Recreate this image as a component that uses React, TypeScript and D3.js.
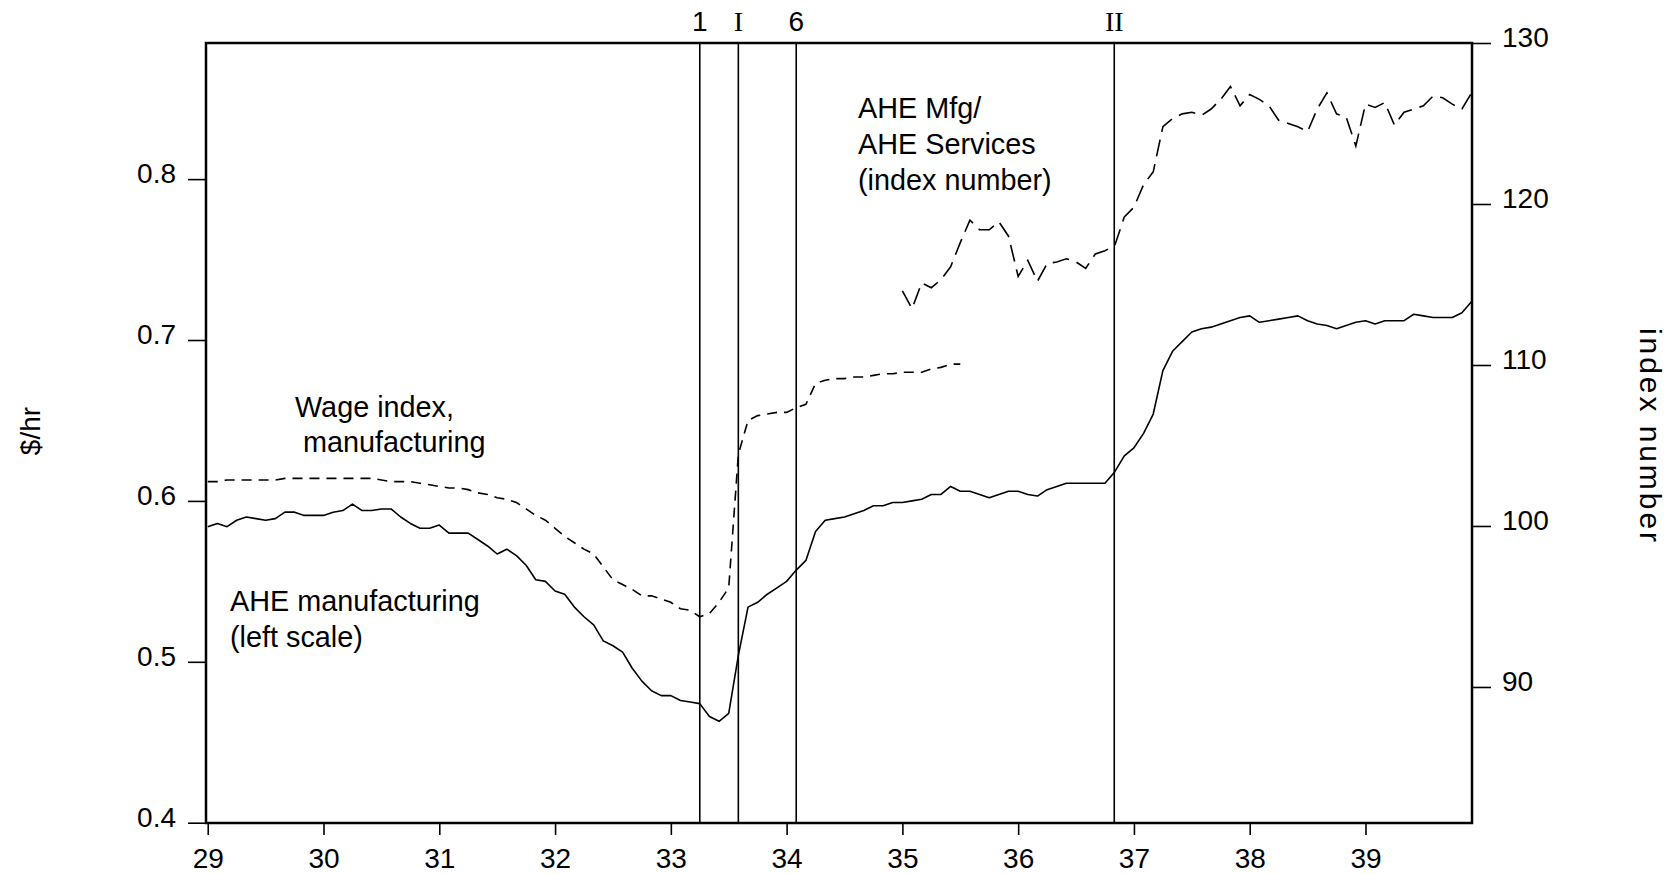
import React, { useEffect, useRef } from 'react';
import * as d3 from 'd3';

// monthly, Jan 1929 .. Dec 1939, $/hr (left scale)
const aheMfg = [
  0.584, 0.586, 0.584, 0.588, 0.590, 0.589, 0.588, 0.589, 0.593, 0.593, 0.591, 0.591,
  0.591, 0.593, 0.594, 0.598, 0.594, 0.594, 0.595, 0.595, 0.590, 0.586, 0.583, 0.583,
  0.585, 0.580, 0.580, 0.580, 0.576, 0.572, 0.567, 0.570, 0.566, 0.560, 0.551, 0.550,
  0.544, 0.542, 0.534, 0.528, 0.523, 0.513, 0.510, 0.506, 0.496, 0.488, 0.482, 0.479,
  0.479, 0.476, 0.475, 0.474, 0.466, 0.463, 0.468, 0.504, 0.534, 0.537, 0.542, 0.546,
  0.550, 0.557, 0.563, 0.581, 0.588, 0.589, 0.590, 0.592, 0.594, 0.597, 0.597, 0.599,
  0.599, 0.600, 0.601, 0.604, 0.604, 0.609, 0.606, 0.606, 0.604, 0.602, 0.604, 0.606,
  0.606, 0.604, 0.603, 0.607, 0.609, 0.611, 0.611, 0.611, 0.611, 0.611, 0.618, 0.628,
  0.633, 0.642, 0.654, 0.681, 0.693, 0.699, 0.705, 0.707, 0.708, 0.710, 0.712, 0.714,
  0.715, 0.711, 0.712, 0.713, 0.714, 0.715, 0.712, 0.710, 0.709, 0.707, 0.709, 0.711,
  0.712, 0.710, 0.712, 0.712, 0.712, 0.716, 0.715, 0.714, 0.714, 0.714, 0.717, 0.724,
];

// wage index, manufacturing, Jan 1929 .. Jul 1935 (left scale)
const wageIndex = [
  0.612, 0.612, 0.613, 0.613, 0.613, 0.613, 0.613, 0.613, 0.614, 0.614, 0.614, 0.614,
  0.614, 0.614, 0.614, 0.614, 0.614, 0.614, 0.613, 0.612, 0.612, 0.612, 0.611, 0.610,
  0.609, 0.608, 0.608, 0.607, 0.605, 0.604, 0.602, 0.601, 0.599, 0.595, 0.591, 0.588,
  0.583, 0.578, 0.574, 0.570, 0.567, 0.559, 0.551, 0.548, 0.545, 0.541, 0.541, 0.539,
  0.537, 0.533, 0.532, 0.528, 0.530, 0.537, 0.546, 0.629, 0.650, 0.653, 0.654, 0.655,
  0.655, 0.658, 0.660, 0.673, 0.675, 0.676, 0.676, 0.677, 0.677, 0.678, 0.679, 0.679,
  0.680, 0.680, 0.680, 0.682, 0.683, 0.685, 0.685,
];

// AHE Mfg / AHE Services, index number, Jan 1935 .. Dec 1939 (right scale)
const ratioStart = 72;
const mfgServices = [
  114.6, 113.5, 115.1, 114.8, 115.3, 116.1, 117.6, 119.0, 118.4, 118.4, 118.9, 118.0,
  115.5, 116.5, 115.2, 116.3, 116.4, 116.6, 116.4, 116.0, 116.9, 117.1, 117.4, 119.2,
  119.8, 121.2, 122.0, 124.8, 125.3, 125.6, 125.7, 125.5, 125.9, 126.5, 127.3, 126.1,
  126.8, 126.5, 126.1, 125.2, 125.0, 124.8, 124.5, 125.9, 126.9, 125.6, 125.4, 123.6,
  126.2, 126.0, 126.3, 124.9, 125.7, 125.9, 126.1, 126.7, 126.6, 126.2, 125.9, 126.9,
];

const yearTicks = [29, 30, 31, 32, 33, 34, 35, 36, 37, 38, 39];
const leftTicks = [0.4, 0.5, 0.6, 0.7, 0.8];
const rightTicks = [90, 100, 110, 120, 130];

const markers = [
  { at: 33.25, label: '1', serif: false },
  { at: 33.583, label: 'I', serif: true },
  { at: 34.083, label: '6', serif: false },
  { at: 36.83, label: 'II', serif: true },
];

const W = 1672, H = 874;
const frame = { left: 206, right: 1472, top: 43, bottom: 823 };
const SANS = '"Liberation Sans", Arial, Helvetica, sans-serif';
const SERIF = '"Liberation Serif", "Times New Roman", serif';
const FS = 28;

const monthX = (i: number) => 29 + i / 12;

const App = () => {
  const ref = useRef<SVGSVGElement>(null);

  useEffect(() => {
    const svg = d3.select(ref.current);
    svg.selectAll('*').remove();

    const x = d3.scaleLinear().domain([28.985, 39.92]).range([frame.left, frame.right]);
    const yL = d3.scaleLinear().domain([0.4, 0.8846]).range([822.7, frame.top]);
    const yR = d3.scaleLinear().domain([81.57, 130]).range([822.7, frame.top]);

    const styleAxis = (g: any, dy: string) => {
      g.attr('font-size', FS).attr('font-family', SANS);
      g.select('.domain').remove();
      g.selectAll('line').attr('stroke', '#000').attr('stroke-width', 1.6);
      g.selectAll('text').attr('fill', '#000').attr('dy', dy);
    };

    svg.append('g')
      .attr('transform', `translate(0,${frame.bottom})`)
      .call(d3.axisBottom(x).tickValues(yearTicks).tickSize(12).tickPadding(13).tickFormat(d3.format('d')))
      .call(g => styleAxis(g, '0.71em'));

    svg.append('g')
      .attr('transform', `translate(${frame.left},0)`)
      .call(d3.axisLeft(yL).tickValues(leftTicks).tickSize(18).tickPadding(12).tickFormat(d3.format('.1f')))
      .call(g => styleAxis(g, '0.12em'));

    svg.append('g')
      .attr('transform', `translate(${frame.right},0)`)
      .call(d3.axisRight(yR).tickValues(rightTicks).tickSize(19).tickPadding(11).tickFormat(d3.format('d')))
      .call(g => styleAxis(g, '0.12em'));

    // recession / event markers
    const mk = svg.append('g');
    mk.selectAll('line')
      .data(markers)
      .join('line')
        .attr('x1', d => x(d.at))
        .attr('x2', d => x(d.at))
        .attr('y1', frame.top)
        .attr('y2', frame.bottom)
        .attr('stroke', '#000')
        .attr('stroke-width', 1.6);
    mk.selectAll('text')
      .data(markers)
      .join('text')
        .attr('x', d => x(d.at))
        .attr('y', 31)
        .attr('text-anchor', 'middle')
        .attr('font-size', FS)
        .attr('font-family', d => (d.serif ? SERIF : SANS))
        .text(d => d.label);

    const lineL = d3.line<number>().x((d, i) => x(monthX(i))).y(d => yL(d));
    const lineR = d3.line<number>().x((d, i) => x(monthX(i + ratioStart))).y(d => yR(d));

    svg.append('path')
      .datum(aheMfg)
      .attr('d', lineL)
      .attr('fill', 'none')
      .attr('stroke', '#000')
      .attr('stroke-width', 1.6)
      .attr('stroke-linejoin', 'round');

    svg.append('path')
      .datum(wageIndex)
      .attr('d', lineL)
      .attr('fill', 'none')
      .attr('stroke', '#000')
      .attr('stroke-width', 1.6)
      .attr('stroke-dasharray', '10,7');

    svg.append('path')
      .datum(mfgServices)
      .attr('d', lineR)
      .attr('fill', 'none')
      .attr('stroke', '#000')
      .attr('stroke-width', 1.6)
      .attr('stroke-dasharray', '17,8');

    // plot frame
    svg.append('rect')
      .attr('x', frame.left)
      .attr('y', frame.top)
      .attr('width', frame.right - frame.left)
      .attr('height', frame.bottom - frame.top)
      .attr('fill', 'none')
      .attr('stroke', '#000')
      .attr('stroke-width', 2.5);

    // annotations
    const notes = [
      { x: 295, y: 417, t: 'Wage index,' },
      { x: 303, y: 452, t: 'manufacturing' },
      { x: 230, y: 611, t: 'AHE manufacturing' },
      { x: 230, y: 647, t: '(left scale)' },
      { x: 858, y: 118, t: 'AHE Mfg/' },
      { x: 858, y: 154, t: 'AHE Services' },
      { x: 858, y: 190, t: '(index number)' },
    ];
    svg.append('g')
      .attr('font-size', 28.8)
      .attr('font-family', SANS)
      .selectAll('text')
      .data(notes)
      .join('text')
        .attr('x', d => d.x)
        .attr('y', d => d.y)
        .text(d => d.t);

    // axis titles
    svg.append('text')
      .attr('transform', 'translate(40,431) rotate(-90)')
      .attr('text-anchor', 'middle')
      .attr('font-size', FS)
      .attr('font-family', SANS)
      .text('$/hr');

    svg.append('text')
      .attr('transform', 'translate(1640,435) rotate(90)')
      .attr('text-anchor', 'middle')
      .attr('font-size', 30)
      .attr('font-family', SANS)
      .attr('textLength', 214)
      .attr('lengthAdjust', 'spacing')
      .text('index number');
  }, []);

  return (
    <svg
      ref={ref}
      width={W}
      height={H}
      style={{ position: 'absolute', left: 0, top: 0, background: '#fff' }}
    ></svg>
  );
};

export default App;
